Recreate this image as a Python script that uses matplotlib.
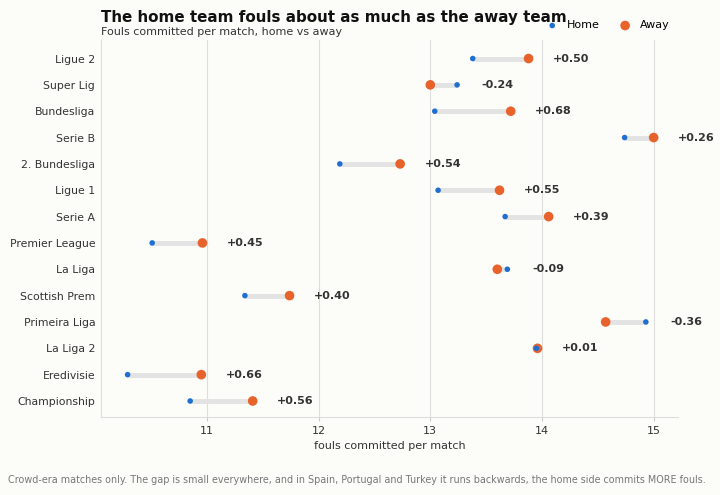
import numpy as np
import matplotlib.pyplot as plt

leagues = ["Ligue 2", "Super Lig", "Bundesliga", "Serie B", "2. Bundesliga", "Ligue 1",
           "Serie A", "Premier League", "La Liga", "Scottish Prem", "Primeira Liga",
           "La Liga 2", "Eredivisie", "Championship"]
home = [13.38, 13.24, 13.04, 14.74, 12.19, 13.07, 13.67, 10.51, 13.69, 11.34, 14.93, 13.95, 10.29, 10.85]
away = [13.88, 13.00, 13.72, 15.00, 12.73, 13.62, 14.06, 10.96, 13.60, 11.74, 14.57, 13.96, 10.95, 11.41]
gap_labels = ["+0.50", "-0.24", "+0.68", "+0.26", "+0.54", "+0.55", "+0.39", "+0.45",
              "-0.09", "+0.40", "-0.36", "+0.01", "+0.66", "+0.56"]

bg = "#fcfcf9"
blue = "#1f6fd1"
orange = "#e8622c"

fig = plt.figure(figsize=(7.2, 4.95), dpi=100, facecolor=bg)
ax = fig.add_axes([0.140, 0.158, 0.802, 0.761], facecolor=bg)

y = np.arange(len(leagues))
for i in y:
    ax.plot([home[i], away[i]], [i, i], color="#e3e3e3", lw=3.5, solid_capstyle="butt", zorder=2)
ax.scatter(home, y, s=16, color=blue, zorder=4, label="Home", edgecolors="none")
ax.scatter(away, y, s=48, color=orange, zorder=3, label="Away", edgecolors="none")

for i in y:
    ax.text(max(home[i], away[i]) + 0.22, i, gap_labels[i], va="center", ha="left",
            fontsize=8, fontweight="bold", color="#333333")

ax.set_yticks(y)
ax.set_yticklabels(leagues, fontsize=7.8, color="#333333")
ax.set_ylim(13.6, -0.7)
ax.set_xlim(10.05, 15.22)
ax.set_xticks([11, 12, 13, 14, 15])
ax.tick_params(axis="x", labelsize=8, colors="#333333", length=3, color="#cccccc")
ax.tick_params(axis="y", length=0, pad=4)
ax.set_xlabel("fouls committed per match", fontsize=8, color="#333333")
ax.grid(axis="x", color="#dddddd", lw=0.8)
ax.set_axisbelow(True)
for s in ["top", "right"]:
    ax.spines[s].set_visible(False)
for s in ["left", "bottom"]:
    ax.spines[s].set_color("#dddddd")

fig.text(0.140, 0.955, "The home team fouls about as much as the away team", fontsize=10.9,
         fontweight="bold", color="#111111", va="baseline")
fig.text(0.140, 0.929, "Fouls committed per match, home vs away", fontsize=8,
         color="#333333", va="baseline")
ax.legend(loc="lower right", bbox_to_anchor=(0.998, 1.005), ncol=2, frameon=False,
          fontsize=8, handletextpad=0.3, columnspacing=1.3, borderaxespad=0.3)

fig.text(0.011, 0.025, "Crowd-era matches only. The gap is small everywhere, and in Spain, Portugal and Turkey it runs backwards, the home side commits MORE fouls.",
         fontsize=6.9, color="#777777", va="baseline")

fig.savefig("out.png", dpi=100, facecolor=bg)
